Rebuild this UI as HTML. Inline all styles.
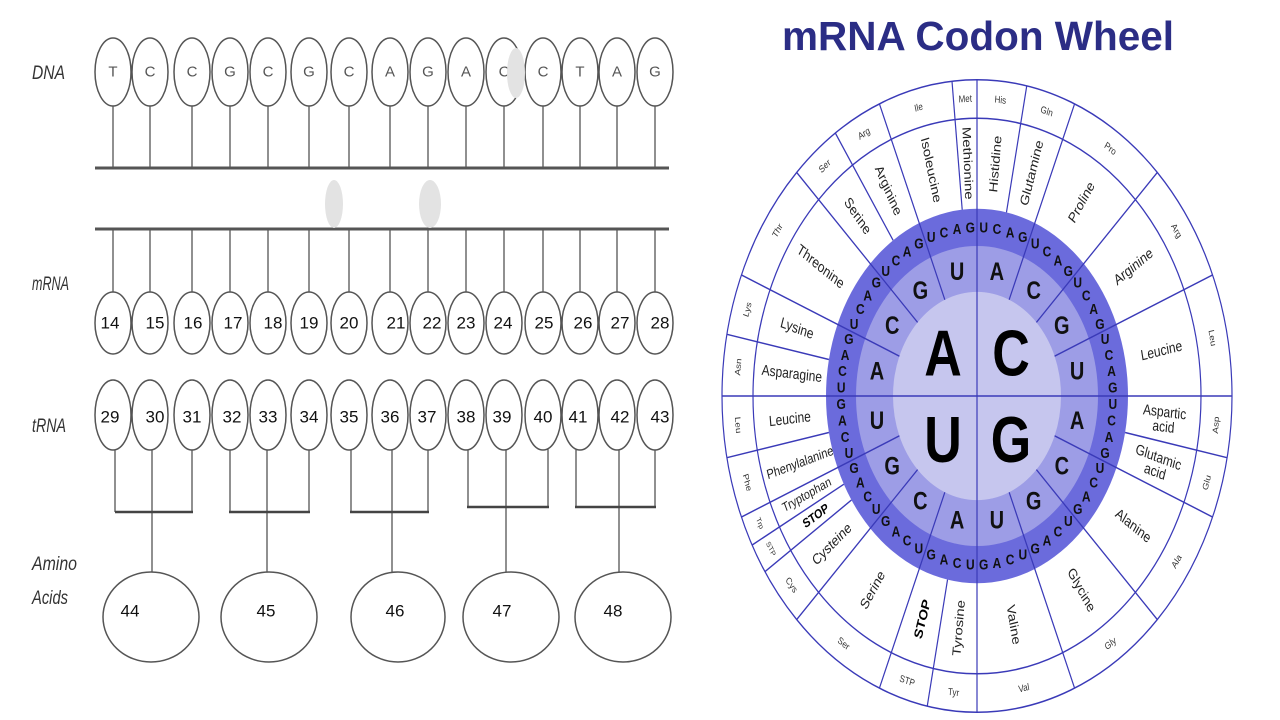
<!DOCTYPE html>
<html><head><meta charset="utf-8"><style>
html,body{margin:0;padding:0;background:#fff;}
svg{display:block;}
.lbl{font-family:"Liberation Sans",sans-serif;font-style:italic;font-size:19px;fill:#333;}
.dl{font-family:"Liberation Sans",sans-serif;font-size:15px;fill:#555;text-anchor:middle;dominant-baseline:central;}
.num{font-family:"Liberation Sans",sans-serif;font-size:17px;fill:#111;text-anchor:middle;dominant-baseline:central;}
.ov{fill:#fff;stroke:#555;stroke-width:1.5;}
.st{stroke:#222;stroke-width:1;}
.w text{font-family:"Liberation Sans",sans-serif;text-anchor:middle;dominant-baseline:central;}
.am{font-size:12px;fill:#222;}
.ab{font-size:8px;fill:#333;}
.t3{font-size:12px;font-weight:bold;fill:#111;}
.t2{font-size:20px;font-weight:bold;fill:#111;}
.t1{font-size:52px;font-weight:bold;fill:#000;}
.wl{stroke:#3a3ab8;stroke-width:1.2;fill:none;}
</style></head><body>
<svg width="1280" height="720" viewBox="0 0 1280 720" xmlns="http://www.w3.org/2000/svg">
<rect width="1280" height="720" fill="#fff"/>
<text class="lbl" x="32" y="79" textLength="33" lengthAdjust="spacingAndGlyphs">DNA</text>
<text class="lbl" x="32" y="290" textLength="37" lengthAdjust="spacingAndGlyphs">mRNA</text>
<text class="lbl" x="32" y="432" textLength="34" lengthAdjust="spacingAndGlyphs">tRNA</text>
<text class="lbl" x="32" y="570" textLength="45" lengthAdjust="spacingAndGlyphs">Amino</text>
<text class="lbl" x="32" y="604" textLength="36" lengthAdjust="spacingAndGlyphs">Acids</text>

<g class="st">
<line x1="113" y1="104" x2="113" y2="168"/><line x1="150" y1="104" x2="150" y2="168"/><line x1="192" y1="104" x2="192" y2="168"/><line x1="230" y1="104" x2="230" y2="168"/><line x1="268" y1="104" x2="268" y2="168"/><line x1="309" y1="104" x2="309" y2="168"/><line x1="349" y1="104" x2="349" y2="168"/><line x1="390" y1="104" x2="390" y2="168"/><line x1="428" y1="104" x2="428" y2="168"/><line x1="466" y1="104" x2="466" y2="168"/><line x1="504" y1="104" x2="504" y2="168"/><line x1="543" y1="104" x2="543" y2="168"/><line x1="580" y1="104" x2="580" y2="168"/><line x1="617" y1="104" x2="617" y2="168"/><line x1="655" y1="104" x2="655" y2="168"/>
<line x1="113" y1="229" x2="113" y2="294"/><line x1="150" y1="229" x2="150" y2="294"/><line x1="192" y1="229" x2="192" y2="294"/><line x1="230" y1="229" x2="230" y2="294"/><line x1="268" y1="229" x2="268" y2="294"/><line x1="309" y1="229" x2="309" y2="294"/><line x1="349" y1="229" x2="349" y2="294"/><line x1="390" y1="229" x2="390" y2="294"/><line x1="428" y1="229" x2="428" y2="294"/><line x1="466" y1="229" x2="466" y2="294"/><line x1="504" y1="229" x2="504" y2="294"/><line x1="543" y1="229" x2="543" y2="294"/><line x1="580" y1="229" x2="580" y2="294"/><line x1="617" y1="229" x2="617" y2="294"/><line x1="655" y1="229" x2="655" y2="294"/>
</g>
<line x1="95" y1="168" x2="669" y2="168" stroke="#555" stroke-width="3"/>
<line x1="95" y1="229" x2="669" y2="229" stroke="#555" stroke-width="3"/>

<g class="ov">
<ellipse cx="113" cy="72" rx="18" ry="34"/><ellipse cx="150" cy="72" rx="18" ry="34"/><ellipse cx="192" cy="72" rx="18" ry="34"/><ellipse cx="230" cy="72" rx="18" ry="34"/><ellipse cx="268" cy="72" rx="18" ry="34"/><ellipse cx="309" cy="72" rx="18" ry="34"/><ellipse cx="349" cy="72" rx="18" ry="34"/><ellipse cx="390" cy="72" rx="18" ry="34"/><ellipse cx="428" cy="72" rx="18" ry="34"/><ellipse cx="466" cy="72" rx="18" ry="34"/><ellipse cx="504" cy="72" rx="18" ry="34"/><ellipse cx="543" cy="72" rx="18" ry="34"/><ellipse cx="580" cy="72" rx="18" ry="34"/><ellipse cx="617" cy="72" rx="18" ry="34"/><ellipse cx="655" cy="72" rx="18" ry="34"/>
</g>
<g class="dl">
<text x="113" y="72">T</text><text x="150" y="72">C</text><text x="192" y="72">C</text><text x="230" y="72">G</text><text x="268" y="72">C</text><text x="309" y="72">G</text><text x="349" y="72">C</text><text x="390" y="72">A</text><text x="428" y="72">G</text><text x="466" y="72">A</text><text x="504" y="72">C</text><text x="543" y="72">C</text><text x="580" y="72">T</text><text x="617" y="72">A</text><text x="655" y="72">G</text>
</g>
<ellipse cx="516" cy="73" rx="9" ry="25" fill="#e3e3e3"/>
<ellipse cx="334" cy="204" rx="9" ry="24" fill="#e3e3e3"/>
<ellipse cx="430" cy="204" rx="11" ry="24" fill="#e3e3e3"/>

<g class="ov">
<ellipse cx="113" cy="323" rx="18" ry="31"/><ellipse cx="150" cy="323" rx="18" ry="31"/><ellipse cx="192" cy="323" rx="18" ry="31"/><ellipse cx="230" cy="323" rx="18" ry="31"/><ellipse cx="268" cy="323" rx="18" ry="31"/><ellipse cx="309" cy="323" rx="18" ry="31"/><ellipse cx="349" cy="323" rx="18" ry="31"/><ellipse cx="390" cy="323" rx="18" ry="31"/><ellipse cx="428" cy="323" rx="18" ry="31"/><ellipse cx="466" cy="323" rx="18" ry="31"/><ellipse cx="504" cy="323" rx="18" ry="31"/><ellipse cx="543" cy="323" rx="18" ry="31"/><ellipse cx="580" cy="323" rx="18" ry="31"/><ellipse cx="617" cy="323" rx="18" ry="31"/><ellipse cx="655" cy="323" rx="18" ry="31"/>
</g>
<g class="num">
<text x="110" y="323">14</text><text x="155" y="323">15</text><text x="193" y="323">16</text><text x="233" y="323">17</text><text x="273" y="323">18</text><text x="309" y="323">19</text><text x="349" y="323">20</text><text x="396" y="323">21</text><text x="432" y="323">22</text><text x="466" y="323">23</text><text x="503" y="323">24</text><text x="544" y="323">25</text><text x="583" y="323">26</text><text x="620" y="323">27</text><text x="660" y="323">28</text>
</g>

<g class="st">
<line x1="115" y1="448" x2="115" y2="512"/><line x1="152" y1="448" x2="152" y2="572"/><line x1="192" y1="448" x2="192" y2="512"/>
<line x1="115" y1="512" x2="193" y2="512" stroke-width="2.5" stroke="#444"/>
<line x1="230" y1="448" x2="230" y2="512"/><line x1="267" y1="448" x2="267" y2="572"/><line x1="309" y1="448" x2="309" y2="512"/>
<line x1="229" y1="512" x2="310" y2="512" stroke-width="2.5" stroke="#444"/>
<line x1="351" y1="448" x2="351" y2="512"/><line x1="392" y1="448" x2="392" y2="572"/><line x1="428" y1="448" x2="428" y2="512"/>
<line x1="350" y1="512" x2="429" y2="512" stroke-width="2.5" stroke="#444"/>
<line x1="468" y1="448" x2="468" y2="507"/><line x1="506" y1="448" x2="506" y2="572"/><line x1="548" y1="448" x2="548" y2="507"/>
<line x1="467" y1="507" x2="549" y2="507" stroke-width="2.5" stroke="#444"/>
<line x1="576" y1="448" x2="576" y2="507"/><line x1="619" y1="448" x2="619" y2="572"/><line x1="655" y1="448" x2="655" y2="507"/>
<line x1="575" y1="507" x2="656" y2="507" stroke-width="2.5" stroke="#444"/>
</g>
<g class="ov">
<ellipse cx="113" cy="415" rx="18" ry="35"/><ellipse cx="150" cy="415" rx="18" ry="35"/><ellipse cx="192" cy="415" rx="18" ry="35"/><ellipse cx="230" cy="415" rx="18" ry="35"/><ellipse cx="268" cy="415" rx="18" ry="35"/><ellipse cx="309" cy="415" rx="18" ry="35"/><ellipse cx="349" cy="415" rx="18" ry="35"/><ellipse cx="390" cy="415" rx="18" ry="35"/><ellipse cx="428" cy="415" rx="18" ry="35"/><ellipse cx="466" cy="415" rx="18" ry="35"/><ellipse cx="504" cy="415" rx="18" ry="35"/><ellipse cx="543" cy="415" rx="18" ry="35"/><ellipse cx="580" cy="415" rx="18" ry="35"/><ellipse cx="617" cy="415" rx="18" ry="35"/><ellipse cx="655" cy="415" rx="18" ry="35"/>
</g>
<g class="num">
<text x="110" y="417">29</text><text x="155" y="417">30</text><text x="192" y="417">31</text><text x="232" y="417">32</text><text x="268" y="417">33</text><text x="309" y="417">34</text><text x="349" y="417">35</text><text x="390" y="417">36</text><text x="427" y="417">37</text><text x="466" y="417">38</text><text x="502" y="417">39</text><text x="543" y="417">40</text><text x="578" y="417">41</text><text x="620" y="417">42</text><text x="660" y="417">43</text>
</g>

<g class="ov">
<ellipse cx="151" cy="617" rx="48" ry="45"/><ellipse cx="269" cy="617" rx="48" ry="45"/><ellipse cx="398" cy="617" rx="47" ry="45"/><ellipse cx="511" cy="617" rx="48" ry="45"/><ellipse cx="623" cy="617" rx="48" ry="45"/>
</g>
<g class="num">
<text x="130" y="611">44</text><text x="266" y="611">45</text><text x="395" y="611">46</text><text x="502" y="611">47</text><text x="613" y="611">48</text>
</g>

<text x="978" y="50" text-anchor="middle" font-family="Liberation Sans, sans-serif" font-weight="bold" font-size="41" fill="#2b2d85" textLength="392" lengthAdjust="spacingAndGlyphs">mRNA Codon Wheel</text>

<g class="w" transform="translate(977,396) scale(1,1.24)">
<circle r="255" fill="#fff"/>
<circle r="151" fill="#6b6bdc"/>
<circle r="121" fill="#9d9de6"/>
<circle r="84" fill="#c6c6ee"/>
<g class="wl">
<circle r="255"/><circle r="224"/>
<line x1="0" y1="-255" x2="0" y2="255"/><line x1="-255" y1="0" x2="255" y2="0"/>
<line x1="0" y1="-84" x2="0" y2="-255" transform="rotate(22.5)"/>
<line x1="0" y1="-84" x2="0" y2="-255" transform="rotate(45)"/>
<line x1="0" y1="-84" x2="0" y2="-255" transform="rotate(67.5)"/>
<line x1="0" y1="-84" x2="0" y2="-255" transform="rotate(112.5)"/>
<line x1="0" y1="-84" x2="0" y2="-255" transform="rotate(135)"/>
<line x1="0" y1="-84" x2="0" y2="-255" transform="rotate(157.5)"/>
<line x1="0" y1="-84" x2="0" y2="-255" transform="rotate(202.5)"/>
<line x1="0" y1="-84" x2="0" y2="-255" transform="rotate(225)"/>
<line x1="0" y1="-84" x2="0" y2="-255" transform="rotate(247.5)"/>
<line x1="0" y1="-84" x2="0" y2="-255" transform="rotate(292.5)"/>
<line x1="0" y1="-84" x2="0" y2="-255" transform="rotate(315)"/>
<line x1="0" y1="-84" x2="0" y2="-255" transform="rotate(337.5)"/>
<line x1="0" y1="-151" x2="0" y2="-255" transform="rotate(11.25)"/>
<line x1="0" y1="-151" x2="0" y2="-255" transform="rotate(101.25)"/>
<line x1="0" y1="-151" x2="0" y2="-255" transform="rotate(191.25)"/>
<line x1="0" y1="-151" x2="0" y2="-255" transform="rotate(236.25)"/>
<line x1="0" y1="-151" x2="0" y2="-255" transform="rotate(241.875)"/>
<line x1="0" y1="-151" x2="0" y2="-255" transform="rotate(258.75)"/>
<line x1="0" y1="-151" x2="0" y2="-255" transform="rotate(281.25)"/>
<line x1="0" y1="-151" x2="0" y2="-255" transform="rotate(326.25)"/>
<line x1="0" y1="-151" x2="0" y2="-255" transform="rotate(354.375)"/>
</g>

<text class="t1" x="-34" y="-34">A</text>
<text class="t1" x="34" y="-34">C</text>
<text class="t1" x="-34" y="36">U</text>
<text class="t1" x="34" y="36">G</text>

<g class="t2">
<text transform="rotate(11.25) translate(0,-102) rotate(-11.25)">A</text>
<text transform="rotate(33.75) translate(0,-102) rotate(-33.75)">C</text>
<text transform="rotate(56.25) translate(0,-102) rotate(-56.25)">G</text>
<text transform="rotate(78.75) translate(0,-102) rotate(-78.75)">U</text>
<text transform="rotate(101.25) translate(0,-102) rotate(-101.25)">A</text>
<text transform="rotate(123.75) translate(0,-102) rotate(-123.75)">C</text>
<text transform="rotate(146.25) translate(0,-102) rotate(-146.25)">G</text>
<text transform="rotate(168.75) translate(0,-102) rotate(-168.75)">U</text>
<text transform="rotate(191.25) translate(0,-102) rotate(-191.25)">A</text>
<text transform="rotate(213.75) translate(0,-102) rotate(-213.75)">C</text>
<text transform="rotate(236.25) translate(0,-102) rotate(-236.25)">G</text>
<text transform="rotate(258.75) translate(0,-102) rotate(-258.75)">U</text>
<text transform="rotate(281.25) translate(0,-102) rotate(-281.25)">A</text>
<text transform="rotate(303.75) translate(0,-102) rotate(-303.75)">C</text>
<text transform="rotate(326.25) translate(0,-102) rotate(-326.25)">G</text>
<text transform="rotate(348.75) translate(0,-102) rotate(-348.75)">U</text>
</g>

<g class="t3">
<text transform="rotate(2.81) translate(0,-136) rotate(-2.81)">U</text>
<text transform="rotate(8.44) translate(0,-136) rotate(-8.44)">C</text>
<text transform="rotate(14.06) translate(0,-136) rotate(-14.06)">A</text>
<text transform="rotate(19.69) translate(0,-136) rotate(-19.69)">G</text>
<text transform="rotate(25.31) translate(0,-136) rotate(-25.31)">U</text>
<text transform="rotate(30.94) translate(0,-136) rotate(-30.94)">C</text>
<text transform="rotate(36.56) translate(0,-136) rotate(-36.56)">A</text>
<text transform="rotate(42.19) translate(0,-136) rotate(-42.19)">G</text>
<text transform="rotate(47.81) translate(0,-136) rotate(-47.81)">U</text>
<text transform="rotate(53.44) translate(0,-136) rotate(-53.44)">C</text>
<text transform="rotate(59.06) translate(0,-136) rotate(-59.06)">A</text>
<text transform="rotate(64.69) translate(0,-136) rotate(-64.69)">G</text>
<text transform="rotate(70.31) translate(0,-136) rotate(-70.31)">U</text>
<text transform="rotate(75.94) translate(0,-136) rotate(-75.94)">C</text>
<text transform="rotate(81.56) translate(0,-136) rotate(-81.56)">A</text>
<text transform="rotate(87.19) translate(0,-136) rotate(-87.19)">G</text>
<text transform="rotate(92.81) translate(0,-136) rotate(-92.81)">U</text>
<text transform="rotate(98.44) translate(0,-136) rotate(-98.44)">C</text>
<text transform="rotate(104.06) translate(0,-136) rotate(-104.06)">A</text>
<text transform="rotate(109.69) translate(0,-136) rotate(-109.69)">G</text>
<text transform="rotate(115.31) translate(0,-136) rotate(-115.31)">U</text>
<text transform="rotate(120.94) translate(0,-136) rotate(-120.94)">C</text>
<text transform="rotate(126.56) translate(0,-136) rotate(-126.56)">A</text>
<text transform="rotate(132.19) translate(0,-136) rotate(-132.19)">G</text>
<text transform="rotate(137.81) translate(0,-136) rotate(-137.81)">U</text>
<text transform="rotate(143.44) translate(0,-136) rotate(-143.44)">C</text>
<text transform="rotate(149.06) translate(0,-136) rotate(-149.06)">A</text>
<text transform="rotate(154.69) translate(0,-136) rotate(-154.69)">G</text>
<text transform="rotate(160.31) translate(0,-136) rotate(-160.31)">U</text>
<text transform="rotate(165.94) translate(0,-136) rotate(-165.94)">C</text>
<text transform="rotate(171.56) translate(0,-136) rotate(-171.56)">A</text>
<text transform="rotate(177.19) translate(0,-136) rotate(-177.19)">G</text>
<text transform="rotate(182.81) translate(0,-136) rotate(-182.81)">U</text>
<text transform="rotate(188.44) translate(0,-136) rotate(-188.44)">C</text>
<text transform="rotate(194.06) translate(0,-136) rotate(-194.06)">A</text>
<text transform="rotate(199.69) translate(0,-136) rotate(-199.69)">G</text>
<text transform="rotate(205.31) translate(0,-136) rotate(-205.31)">U</text>
<text transform="rotate(210.94) translate(0,-136) rotate(-210.94)">C</text>
<text transform="rotate(216.56) translate(0,-136) rotate(-216.56)">A</text>
<text transform="rotate(222.19) translate(0,-136) rotate(-222.19)">G</text>
<text transform="rotate(227.81) translate(0,-136) rotate(-227.81)">U</text>
<text transform="rotate(233.44) translate(0,-136) rotate(-233.44)">C</text>
<text transform="rotate(239.06) translate(0,-136) rotate(-239.06)">A</text>
<text transform="rotate(244.69) translate(0,-136) rotate(-244.69)">G</text>
<text transform="rotate(250.31) translate(0,-136) rotate(-250.31)">U</text>
<text transform="rotate(255.94) translate(0,-136) rotate(-255.94)">C</text>
<text transform="rotate(261.56) translate(0,-136) rotate(-261.56)">A</text>
<text transform="rotate(267.19) translate(0,-136) rotate(-267.19)">G</text>
<text transform="rotate(272.81) translate(0,-136) rotate(-272.81)">U</text>
<text transform="rotate(278.44) translate(0,-136) rotate(-278.44)">C</text>
<text transform="rotate(284.06) translate(0,-136) rotate(-284.06)">A</text>
<text transform="rotate(289.69) translate(0,-136) rotate(-289.69)">G</text>
<text transform="rotate(295.31) translate(0,-136) rotate(-295.31)">U</text>
<text transform="rotate(300.94) translate(0,-136) rotate(-300.94)">C</text>
<text transform="rotate(306.56) translate(0,-136) rotate(-306.56)">A</text>
<text transform="rotate(312.19) translate(0,-136) rotate(-312.19)">G</text>
<text transform="rotate(317.81) translate(0,-136) rotate(-317.81)">U</text>
<text transform="rotate(323.44) translate(0,-136) rotate(-323.44)">C</text>
<text transform="rotate(329.06) translate(0,-136) rotate(-329.06)">A</text>
<text transform="rotate(334.69) translate(0,-136) rotate(-334.69)">G</text>
<text transform="rotate(340.31) translate(0,-136) rotate(-340.31)">U</text>
<text transform="rotate(345.94) translate(0,-136) rotate(-345.94)">C</text>
<text transform="rotate(351.56) translate(0,-136) rotate(-351.56)">A</text>
<text transform="rotate(357.19) translate(0,-136) rotate(-357.19)">G</text>
</g>

<g class="am">
<text transform="rotate(5.6) translate(0,-188) rotate(-90)">Histidine</text>
<text transform="rotate(16.9) translate(0,-188) rotate(-90)">Glutamine</text>
<text transform="rotate(33.75) translate(0,-188) rotate(-90)">Proline</text>
<text transform="rotate(56.25) translate(0,-188) rotate(-90)">Arginine</text>
<text transform="rotate(78.75) translate(0,-188) rotate(-90)">Leucine</text>
<text transform="rotate(95.6) translate(0,-188) rotate(-90)"><tspan x="0" dy="-6">Aspartic</tspan><tspan x="0" dy="12">acid</tspan></text>
<text transform="rotate(106.9) translate(0,-188) rotate(-90)"><tspan x="0" dy="-6">Glutamic</tspan><tspan x="0" dy="12">acid</tspan></text>
<text transform="rotate(123.75) translate(0,-188) rotate(-90)">Alanine</text>
<text transform="rotate(146.25) translate(0,-188) rotate(-90)">Glycine</text>
<text transform="rotate(168.75) translate(0,-188) rotate(-90)">Valine</text>
<text transform="rotate(185.6) translate(0,-188) rotate(90)">Tyrosine</text>
<text transform="rotate(196.9) translate(0,-188) rotate(90)" font-weight="bold" fill="#000">STOP</text>
<text transform="rotate(213.75) translate(0,-188) rotate(90)">Serine</text>
<text transform="rotate(230.6) translate(0,-188) rotate(90)">Cysteine</text>
<text transform="rotate(239.1) translate(0,-188) rotate(90)" font-weight="bold" fill="#000" font-size="10.5">STOP</text>
<text transform="rotate(245) translate(0,-188) rotate(90)" font-size="10.5">Tryptophan</text>
<text transform="rotate(253.1) translate(0,-185) rotate(90)" font-size="11">Phenylalanine</text>
<text transform="rotate(264.4) translate(0,-188) rotate(90)">Leucine</text>
<text transform="rotate(275.6) translate(0,-186) rotate(90)">Asparagine</text>
<text transform="rotate(286.9) translate(0,-188) rotate(90)">Lysine</text>
<text transform="rotate(303.75) translate(0,-188) rotate(90)">Threonine</text>
<text transform="rotate(320.6) translate(0,-188) rotate(90)">Serine</text>
<text transform="rotate(331.9) translate(0,-188) rotate(90)">Arginine</text>
<text transform="rotate(345.9) translate(0,-188) rotate(90)">Isoleucine</text>
<text transform="rotate(357.2) translate(0,-188) rotate(90)">Methionine</text>
</g>

<g class="ab">
<text transform="rotate(5.6) translate(0,-240)">His</text>
<text transform="rotate(16.9) translate(0,-240)">Gln</text>
<text transform="rotate(33.75) translate(0,-240)">Pro</text>
<text transform="rotate(56.25) translate(0,-240)">Arg</text>
<text transform="rotate(78.75) translate(0,-240)">Leu</text>
<text transform="rotate(95.6) translate(0,-240) rotate(180)">Asp</text>
<text transform="rotate(106.9) translate(0,-240) rotate(180)">Glu</text>
<text transform="rotate(123.75) translate(0,-240) rotate(180)">Ala</text>
<text transform="rotate(146.25) translate(0,-240) rotate(180)">Gly</text>
<text transform="rotate(168.75) translate(0,-240) rotate(180)">Val</text>
<text transform="rotate(185.6) translate(0,-240) rotate(180)">Tyr</text>
<text transform="rotate(196.9) translate(0,-240) rotate(180)">STP</text>
<text transform="rotate(213.75) translate(0,-240) rotate(180)">Ser</text>
<text transform="rotate(230.6) translate(0,-240) rotate(180)">Cys</text>
<text transform="rotate(239.1) translate(0,-240) rotate(180)" font-size="6.5">STP</text>
<text transform="rotate(244.7) translate(0,-240) rotate(180)" font-size="6.5">Trp</text>
<text transform="rotate(253.1) translate(0,-240) rotate(180)">Phe</text>
<text transform="rotate(264.4) translate(0,-240) rotate(180)">Leu</text>
<text transform="rotate(275.6) translate(0,-240)">Asn</text>
<text transform="rotate(286.9) translate(0,-240)">Lys</text>
<text transform="rotate(303.75) translate(0,-240)">Thr</text>
<text transform="rotate(320.6) translate(0,-240)">Ser</text>
<text transform="rotate(331.9) translate(0,-240)">Arg</text>
<text transform="rotate(345.9) translate(0,-240)">Ile</text>
<text transform="rotate(357.2) translate(0,-240)">Met</text>
</g>
</g>
</svg>
</body></html>
